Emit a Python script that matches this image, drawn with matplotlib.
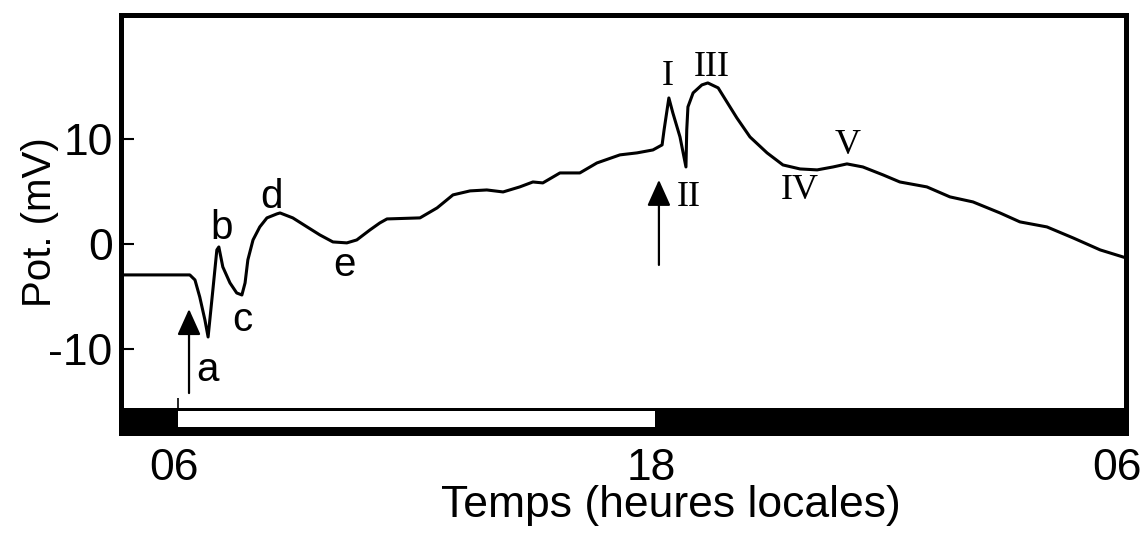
"""Potentiel électrique sur 24 h, avec bande jour/nuit et repères des événements."""
import matplotlib

matplotlib.use("Agg")
import matplotlib.pyplot as plt
from matplotlib.patches import Rectangle

# --- data (heures locales, 06 du lendemain = 30) ---
hours = [4.57, 6.30, 6.43, 6.55, 6.68, 6.76, 6.88, 6.98, 7.03, 7.13, 7.31, 7.48,
         7.61, 7.69, 7.76, 7.89, 8.06, 8.24, 8.49, 8.57, 8.89, 9.25, 9.57, 9.90,
         10.25, 10.50, 10.83, 11.08, 11.26, 12.09, 12.52, 12.92, 13.35, 13.77,
         14.18, 14.60, 14.93, 15.18, 15.61, 16.11, 16.54, 17.12, 17.55, 17.95,
         18.18, 18.23, 18.35, 18.45, 18.63, 18.78, 18.80, 18.83, 18.96, 19.18,
         19.33, 19.59, 19.81, 20.06, 20.39, 20.82, 21.22, 21.65, 22.08, 22.48,
         22.83, 23.23, 23.74, 24.16, 24.84, 25.42, 26.00, 26.68, 27.18, 27.86,
         28.52, 29.20, 29.85]
pot_mv = [-2.95, -2.95, -3.43, -5.05, -7.24, -8.86, -4.38, -0.57, -0.29, -2.19, -3.71, -4.67,
          -4.86, -3.71, -1.52, 0.38, 1.62, 2.48, 2.86, 2.95, 2.48, 1.62, 0.86, 0.19,
          0.10, 0.38, 1.33, 2.00, 2.38, 2.48, 3.43, 4.67, 5.05, 5.14,
          4.95, 5.43, 5.90, 5.81, 6.76, 6.76, 7.71, 8.48, 8.67, 8.95,
          9.43, 10.86, 13.90, 12.48, 10.19, 7.33, 10.86, 13.05, 14.38, 15.14,
          15.33, 14.86, 13.52, 12.00, 10.19, 8.67, 7.52, 7.14, 7.05, 7.33,
          7.62, 7.33, 6.57, 5.90, 5.43, 4.48, 4.00, 2.95, 2.10, 1.62,
          0.57, -0.57, -1.33]

day_start, day_end = 6, 18
x_ticks = [6, 18, 30]
x_tick_labels = ["06", "18", "06"]
y_ticks = [-10, 0, 10]

letters = ["a", "b", "c", "d", "e"]
letter_x = [6.75, 7.10, 7.63, 8.36, 10.20]
letter_y = [-12.0, 1.5, -7.2, 4.5, -2.0]

romans = ["I", "II", "III", "IV", "V"]
roman_x = [18.33, 18.85, 19.43, 21.65, 22.85]
roman_y = [15.9, 4.4, 16.8, 5.1, 9.4]

# flèches : x, pointe, queue
arrow_x = [6.28, 18.10]
arrow_tip = [-6.2, 6.1]
arrow_tail = [-14.2, -2.0]

XMIN, XMAX = 4.57, 29.85
YMIN, YMAX = -18.0, 21.8
BAR_TOP, DAY_TOP, DAY_BOT = -15.6, -15.9, -17.4

fig = plt.figure(figsize=(11.44, 5.35), dpi=100)
ax = fig.add_axes([0.1058, 0.1907, 0.9843 - 0.1058, 0.972 - 0.1907])
sans = "Liberation Sans"
serif = "Liberation Serif"

ax.plot(hours, pot_mv, color="black", lw=2.2, solid_joinstyle="round")

# bande nuit / jour
ax.add_patch(Rectangle((XMIN, YMIN), XMAX - XMIN, BAR_TOP - YMIN, color="black", lw=0))
ax.add_patch(Rectangle((day_start, DAY_BOT), day_end - day_start, DAY_TOP - DAY_BOT,
                       facecolor="white", edgecolor="none"))

for x, tip, tail in zip(arrow_x, arrow_tip, arrow_tail):
    ax.annotate("", xy=(x, tip), xytext=(x, tail),
                arrowprops=dict(arrowstyle="-|>,head_length=0.8,head_width=0.36",
                                mutation_scale=20, color="black", lw=1.6,
                                shrinkA=0, shrinkB=0))

for s, x, y in zip(letters, letter_x, letter_y):
    ax.text(x, y, s, family=sans, fontsize=29, ha="center", va="center")
for s, x, y in zip(romans, roman_x, roman_y):
    ax.text(x, y, s, family=serif, fontsize=26, ha="center", va="center")

ax.set_xlim(XMIN, XMAX)
ax.set_ylim(YMIN, YMAX)
for sp in ax.spines.values():
    sp.set_linewidth(3.6)

ax.set_yticks(y_ticks)
ax.set_yticklabels([str(v) for v in y_ticks], family=sans, fontsize=32)
ax.tick_params(axis="y", direction="in", length=9, width=1.5, pad=6)

ax.set_xticks([])
for x, lab in zip(x_ticks, x_tick_labels):
    ha = "right" if x >= XMAX else "center"
    ax.text(min(x, XMAX) + (0.4 if ha == "right" else -0.1), -0.035, lab,
            transform=ax.get_xaxis_transform(), family=sans, fontsize=32,
            ha=ha, va="top")
ax.vlines(day_start, BAR_TOP, BAR_TOP + 0.9, color="black", lw=1.2)

fig.text(0.586, 0.055, "Temps (heures locales)", family=sans, fontsize=32,
         ha="center", va="center")
fig.text(0.035, 0.585, "Pot. (mV)", family=sans, fontsize=29, rotation=90,
         ha="center", va="center")

fig.savefig("out.png", dpi=100)
